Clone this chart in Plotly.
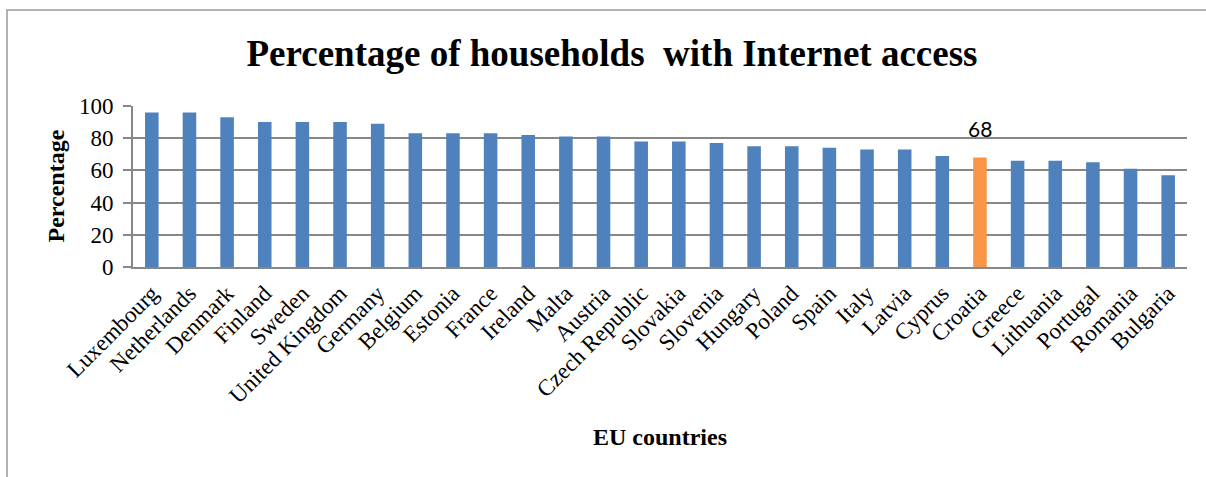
import plotly.graph_objects as go

countries = ["Luxembourg", "Netherlands", "Denmark", "Finland", "Sweden", "United Kingdom",
             "Germany", "Belgium", "Estonia", "France", "Ireland", "Malta", "Austria",
             "Czech Republic", "Slovakia", "Slovenia", "Hungary", "Poland", "Spain", "Italy",
             "Latvia", "Cyprus", "Croatia", "Greece", "Lithuania", "Portugal", "Romania", "Bulgaria"]
values = [96, 96, 93, 90, 90, 90, 89, 83, 83, 83, 82, 81, 81, 78, 78, 77, 75, 75, 74, 73,
          73, 69, 68, 66, 66, 65, 61, 57]
highlight = "Croatia"
y_ticks = [0, 20, 40, 60, 80, 100]

BLUE = "#4F81BD"
ORANGE = "#F79646"
GRID = "#878787"
SERIF = "Liberation Serif, Times New Roman, serif"

colors = [ORANGE if c == highlight else BLUE for c in countries]
hi = countries.index(highlight)

W, H = 1206, 477
L, R, T, B = 133, 19, 106, 210
pw = W - L - R
ph = H - T - B

fig = go.Figure()
fig.add_trace(go.Bar(x=countries, y=values, marker=dict(color=colors, line=dict(width=0)),
                     width=0.36, showlegend=False))

fig.update_layout(
    width=W, height=H,
    margin=dict(l=L, r=R, t=T, b=B, autoexpand=False),
    paper_bgcolor="white", plot_bgcolor="white",
    font=dict(family=SERIF, color="black", size=23),
    title=dict(text="Percentage of households \u00a0with Internet access",
               font=dict(family=SERIF, size=37, color="black", weight="bold"),
               x=612 / W, xref="container", xanchor="center",
               y=1 - 53 / H, yref="container", yanchor="middle"),
    xaxis=dict(showgrid=False, showline=True, linecolor=GRID, linewidth=1.6,
               ticks="", tickangle=-45, tickfont=dict(family=SERIF, size=23),
               ticklabelstandoff=2, fixedrange=True),
    yaxis=dict(range=[0, 100], tickvals=y_ticks, showgrid=True, gridcolor=GRID, gridwidth=1.5,
               showline=True, linecolor=GRID, linewidth=1.6, ticks="outside", ticklen=8,
               tickcolor=GRID, tickwidth=1.5, tickfont=dict(family=SERIF, size=23),
               ticklabelstandoff=5, zeroline=False, fixedrange=True),
    bargap=0.64,
)

# Data label for highlighted bar
fig.add_annotation(x=countries[hi], y=values[hi], text=str(values[hi]), showarrow=False,
                   xref="x", yref="y", yanchor="bottom", yshift=15,
                   font=dict(family="Lato, Open Sans, sans-serif", size=21, color="black"))

# Axis titles
fig.add_annotation(text="Percentage", xref="paper", yref="paper",
                   x=(55 - L) / pw, y=0.5, xanchor="center", yanchor="middle",
                   textangle=-90, showarrow=False,
                   font=dict(family=SERIF, size=24, color="black", weight="bold"))
fig.add_annotation(text="EU countries", xref="paper", yref="paper",
                   x=(660 - L) / pw, y=(H - B - 437) / ph, xanchor="center", yanchor="middle",
                   showarrow=False,
                   font=dict(family=SERIF, size=24, color="black", weight="bold"))

# Outer chart border (top and left visible)
fig.add_shape(type="rect", xref="paper", yref="paper",
              x0=(7 - L) / pw, x1=(W + 50 - L) / pw,
              y0=(H - B - (H + 50)) / ph, y1=(H - B - 10) / ph,
              line=dict(color="#9A9A9A", width=1.5), fillcolor="rgba(0,0,0,0)", layer="below")

fig.write_html("out.html", config={"displayModeBar": False},
               post_script="document.body.style.margin='0';document.body.style.overflow='hidden';")
